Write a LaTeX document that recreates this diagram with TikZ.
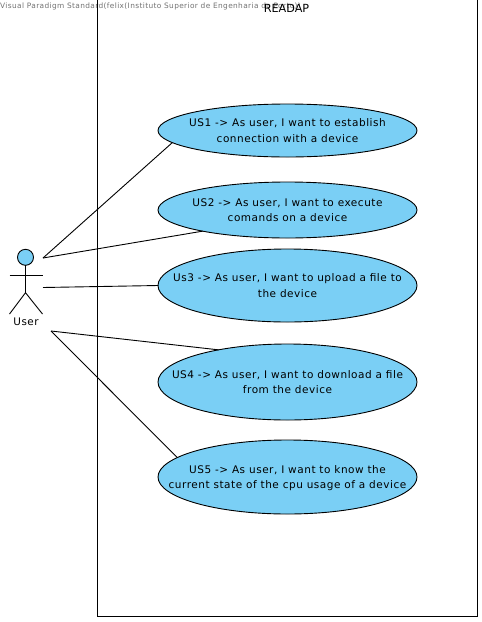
\documentclass[tikz,border=0pt]{standalone}
\usepackage{fontspec}
\setmainfont{DejaVu Sans}
\newfontfamily\ucfont[LetterSpace=5]{DejaVu Sans}
\usetikzlibrary{shapes.geometric}
\definecolor{fillblue}{RGB}{122,207,245}
\newcommand{\uctext}[2]{\makebox[0pt][c]{\raisebox{-1pt}[\height][\depth]{\begin{tabular}{@{}c@{}}#1\\#2\end{tabular}}}}
\tikzset{
  x=1pt,y=-1pt,
  uc/.style={ellipse,draw=black,fill=fillblue,line width=0.9pt,minimum width=259pt,inner sep=0pt,outer sep=0pt,font=\ucfont\fontsize{10.5}{15.5}\selectfont},
  link/.style={draw=black,line width=0.9pt},
}
\begin{document}
\begin{tikzpicture}
\useasboundingbox (0,0) rectangle (482,622);
\fill[white] (0,0) rectangle (482,622);
\node[anchor=west,inner sep=0pt,text=black!55,font=\ucfont\fontsize{7.4}{8}\selectfont] (wm) at (0,6.5) {Visual Paradigm Standard(felix(Instituto Superior de Engenharia do Porto))};
\node[draw=black,line width=1pt,anchor=north west,minimum width=380pt,minimum height=617pt,inner sep=0pt,outer sep=0pt] (sys) at (97.5,-1) {};
\node[inner sep=0pt,font=\fontsize{11.2}{12}\selectfont] (title) at (286.5,8) {READAP};
\coordinate (a1) at (43,258);
\coordinate (a2) at (43,287.5);
\coordinate (a3) at (51,331);
\node[uc,minimum height=53pt] (u1) at (287.5,130.5) {\uctext{US1 -> As user, I want to establish}{connection with a device}};
\node[uc,minimum height=56pt] (u2) at (287.5,210) {\uctext{US2 -> As user, I want to execute}{comands on a device}};
\node[uc,minimum height=73pt] (u3) at (287.5,285.5) {\uctext{Us3 -> As user, I want to upload a file to}{the device}};
\node[uc,minimum height=76pt] (u4) at (287.5,382) {\uctext{US4 -> As user, I want to download a file}{from the device}};
\node[uc,minimum height=74pt] (u5) at (287.5,477) {\uctext{US5 -> As user, I want to know the}{current state of the cpu usage of a device}};
\draw[link] (a1) -- (u1.186.8);
\draw[link] (a1) -- (u2.194.4);
\draw[link] (a2) -- (u3.180);
\draw[link] (a3) -- (u4.155);
\draw[link] (a3) -- (u5.170.2);
\node[circle,draw=black,fill=fillblue,line width=0.9pt,minimum size=16pt,inner sep=0pt,outer sep=0pt] (head) at (25.5,257.3) {};
\coordinate (hip) at (25.5,292.7);
\coordinate (armL) at (9.5,275);
\coordinate (armR) at (42.5,275);
\coordinate (footL) at (9.5,314);
\coordinate (footR) at (42.5,314);
\draw[link] (head) -- (hip);
\draw[link] (armL) -- (armR);
\draw[link] (footL) -- (hip) -- (footR);
\node[inner sep=0pt,font=\ucfont\fontsize{10.4}{12}\selectfont] (user) at (26,322) {User};
\end{tikzpicture}
\end{document}
